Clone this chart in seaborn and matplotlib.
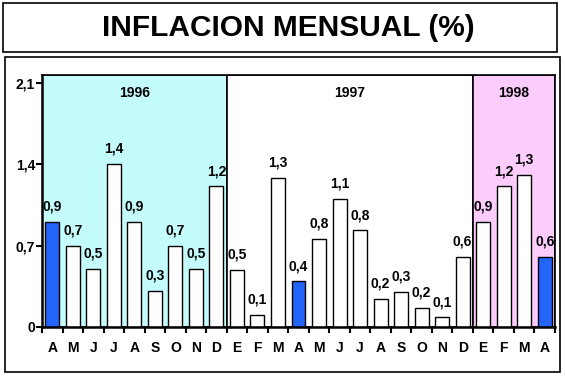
import numpy as np
import pandas as pd
import matplotlib
matplotlib.use("Agg")
import matplotlib.pyplot as plt
import seaborn as sns
from matplotlib.patches import Rectangle

# Monthly inflation, April 1996 - April 1998
months = ["A", "M", "J", "J", "A", "S", "O", "N", "D",
          "E", "F", "M", "A", "M", "J", "J", "A", "S", "O", "N", "D",
          "E", "F", "M", "A"]
inflation = [0.90, 0.70, 0.50, 1.40, 0.90, 0.31, 0.70, 0.50, 1.21,
             0.49, 0.10, 1.28, 0.39, 0.76, 1.10, 0.83, 0.24, 0.30, 0.16, 0.08, 0.60,
             0.90, 1.21, 1.31, 0.60]
value_labels = ["0,9", "0,7", "0,5", "1,4", "0,9", "0,3", "0,7", "0,5", "1,2",
                "0,5", "0,1", "1,3", "0,4", "0,8", "1,1", "0,8", "0,2", "0,3", "0,2", "0,1", "0,6",
                "0,9", "1,2", "1,3", "0,6"]
highlight = [0, 12, 24]  # the April bars
years = ["1996", "1997", "1998"]
year_counts = [9, 12, 4]
yticks = [0, 0.7, 1.4, 2.1]
ytick_labels = ["0", "0,7", "1,4", "2,1"]

df = pd.DataFrame({"pos": np.arange(len(months)), "value": inflation})
bar_colors = ["#2364fa" if i in highlight else "white" for i in df["pos"]]

plt.rcParams["font.family"] = ["Liberation Sans", "DejaVu Sans"]
plt.rcParams["font.weight"] = "bold"

fig = plt.figure(figsize=(5.65, 3.78), dpi=100)
fig.patch.set_facecolor("white")

# title box and chart box
fig.patches.append(Rectangle((3 / 565, 1 - 52 / 378), 554 / 565, 49 / 378,
                             transform=fig.transFigure, fill=False,
                             edgecolor="black", linewidth=1.2))
fig.patches.append(Rectangle((5 / 565, 1 - 372 / 378), 555 / 565, 315 / 378,
                             transform=fig.transFigure, fill=False,
                             edgecolor="black", linewidth=1.2))
fig.text(288 / 565, 1 - 28 / 378, "INFLACION MENSUAL (%)", ha="center", va="center",
         fontsize=21.5, fontweight="bold")

ax = fig.add_axes([42 / 565, 1 - 326.7 / 378, 513 / 565, 251.7 / 378])

# year background regions
shade = ["#c4fcfc", "white", "#fcccfc"]
start = -0.5
for yr, n, c in zip(years, year_counts, shade):
    ax.axvspan(start, start + n, facecolor=c, edgecolor="black", linewidth=1.2, zorder=0)
    ax.text(start + n / 2, 0.93, yr, transform=ax.get_xaxis_transform(),
            ha="center", va="center", fontsize=10, fontweight="bold")
    start += n

sns.barplot(data=df, x="pos", y="value", hue="pos", palette=bar_colors, legend=False,
            width=0.68, edgecolor="black", linewidth=1.0, saturation=1, ax=ax, zorder=2)

for x, v, lab in zip(df["pos"], inflation, value_labels):
    ax.annotate(lab, (x, v), xytext=(0, 6), textcoords="offset points",
                ha="center", va="bottom", fontsize=10, fontweight="bold")

ax.set_xlim(-0.5, len(months) - 0.5)
ax.set_ylim(0, 2.17)
ax.set_xlabel("")
ax.set_ylabel("")

# tick marks between months, labels in the middle
ax.set_xticks(np.arange(len(months) + 1) - 0.5)
ax.set_xticklabels([])
ax.set_xticks(np.arange(len(months)), minor=True)
ax.set_xticklabels(months, minor=True, fontsize=10, fontweight="bold")
ax.tick_params(axis="x", which="major", direction="out", length=4, width=1.5)
ax.tick_params(axis="x", which="minor", length=0, pad=10)

ax.set_yticks(yticks)
ax.set_yticklabels(ytick_labels, fontsize=10, fontweight="bold")
ax.tick_params(axis="y", direction="out", length=4, width=1.5, pad=1)

for s in ax.spines.values():
    s.set_linewidth(1.2)
    s.set_color("black")
ax.spines["left"].set_linewidth(1.8)
ax.spines["bottom"].set_linewidth(1.8)

fig.savefig("out.png", dpi=100)
